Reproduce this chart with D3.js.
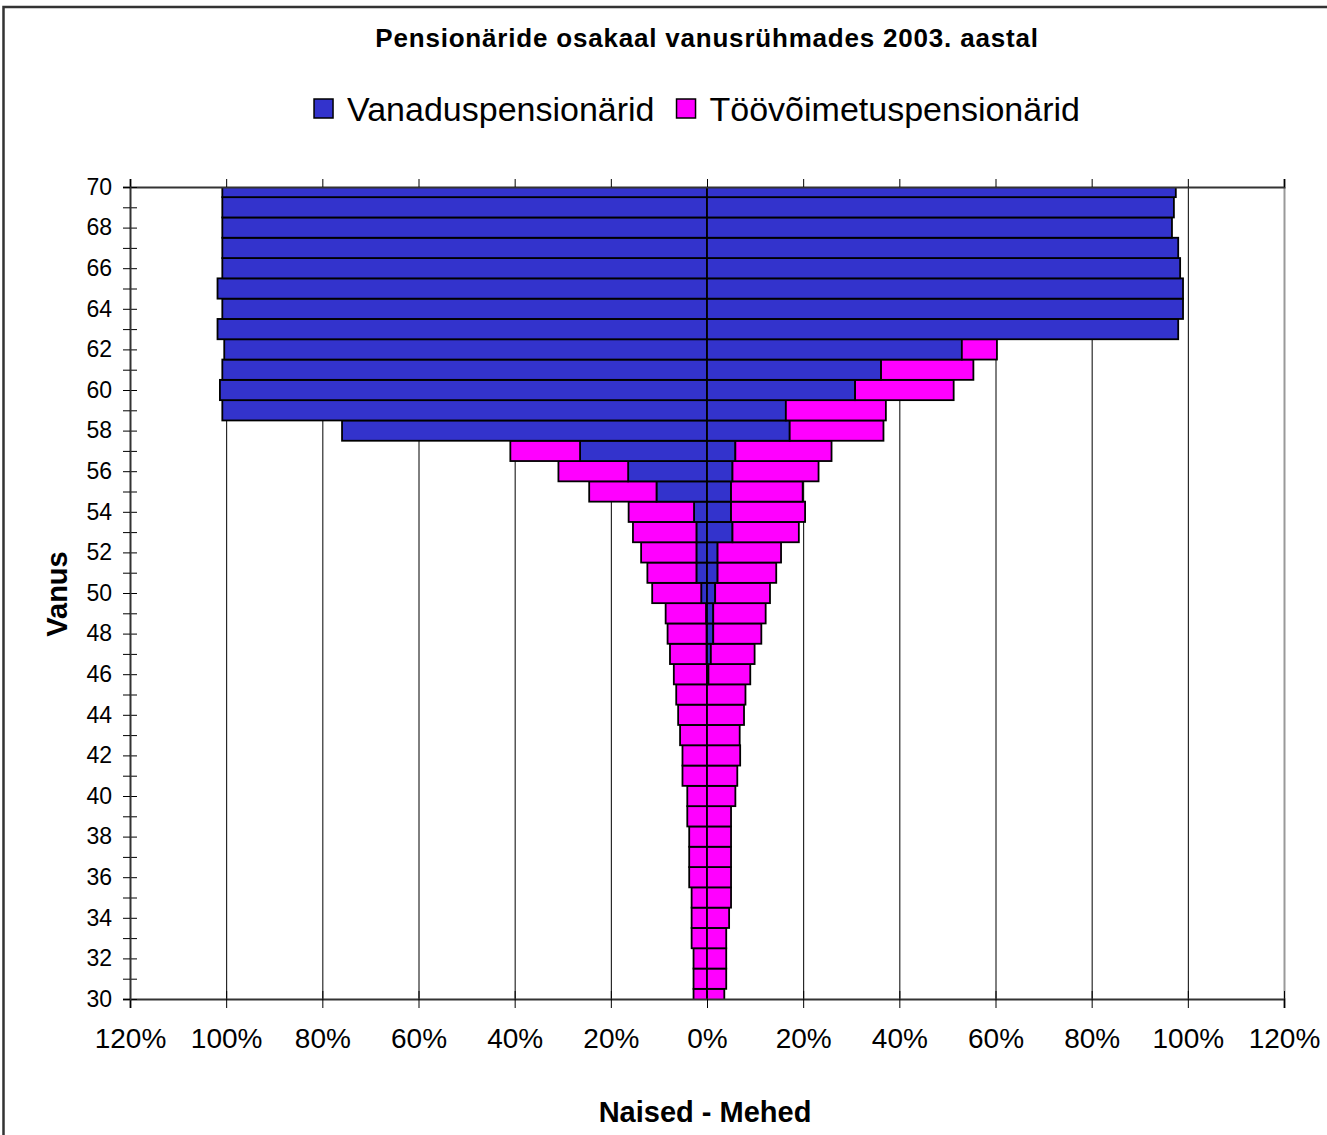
<!DOCTYPE html>
<meta charset="utf-8">
<style>
body { margin: 0; background: white; }
text { font-family: "Liberation Sans", Arial, sans-serif; fill: black; }
</style>
<body>
<script src="https://d3js.org/d3.v7.min.js"></script>
<script>

////*Data: ages 30..70, shares in % of the age group*////
const ages = [30,31,32,33,34,35,36,37,38,39,40,41,42,43,44,45,46,47,48,49,50,
              51,52,53,54,55,56,57,58,59,60,61,62,63,64,65,66,67,68,69,70];

// Naised (women, left side)
const naisedVanadus = [0,0,0,0,0,0,0,0,0,0,0,0,0,0,0,0,0,0.1,0.1,0.2,1.2,
                       2.2,2.2,2.2,2.7,10.5,16.4,26.4,75.9,100.8,101.3,100.8,100.4,101.8,100.8,101.8,100.8,100.8,100.8,100.8,100.8];
const naisedToovoime = [2.8,2.8,2.8,3.2,3.2,3.2,3.7,3.7,3.7,4.1,4.1,5.1,5.1,5.6,6.0,6.4,6.9,7.6,8.1,8.4,10.2,
                        10.2,11.5,13.2,13.6,14.0,14.5,14.5,0,0,0,0,0,0,0,0,0,0,0,0,0];

// Mehed (men, right side)
const mehedVanadus = [0,0,0,0,0,0,0,0,0,0,0,0,0,0,0,0,0.3,0.8,1.3,1.3,1.7,
                      2.2,2.2,5.3,5.0,5.0,5.3,5.9,17.2,16.4,30.8,36.2,53.0,98.0,99.0,99.0,98.4,98.0,96.7,97.1,97.5];
const mehedToovoime = [3.6,4.0,4.0,4.0,4.6,5.0,5.0,5.0,5.0,5.0,5.9,6.3,6.9,6.8,7.7,8.0,8.7,9.1,10.0,10.9,11.4,
                       12.2,13.2,13.8,15.4,14.9,17.9,20.0,19.5,20.8,20.5,19.2,7.3,0,0,0,0,0,0,0,0];

const seriesNames = ["Vanaduspensionärid", "Töövõimetuspensionärid"];
const seriesColors = ["#3333CC", "#FF00FF"];
const xTicks = [-120,-100,-80,-60,-40,-20,0,20,40,60,80,100,120];
const yLabelTicks = [30,32,34,36,38,40,42,44,46,48,50,52,54,56,58,60,62,64,66,68,70];

const titleText = "Pensionäride osakaal vanusrühmades 2003. aastal";
const xTitle = "Naised - Mehed";
const yTitle = "Vanus";

////*Layout*////
const W = 1327, H = 1135;
const plot = { left: 130, right: 1284, top: 187, bottom: 999 };

const svg = d3.select("body").append("svg")
   .attr("width", W)
   .attr("height", H);

// outer chart frame (runs off the right and bottom edge)
svg.append("rect")
   .attr("x", 3.5).attr("y", 7)
   .attr("width", 1400).attr("height", 1300)
   .attr("fill", "white")
   .attr("stroke", "#333")
   .attr("stroke-width", 2.5);

const x = d3.scaleLinear().domain([-120, 120]).range([plot.left, plot.right]);
const y = d3.scaleLinear().domain([30, 70]).range([plot.bottom, plot.top]);

// gridlines
svg.append("g")
   .attr("transform", `translate(0,${plot.top})`)
   .call(d3.axisBottom(x).tickValues(xTicks).tickSize(plot.bottom - plot.top).tickFormat(""))
   .call(g => g.select(".domain").remove())
   .call(g => g.selectAll(".tick line").attr("stroke", "#000").attr("stroke-width", 1))
   .call(g => g.selectAll(".tick").filter(d => d === 120).select("line").attr("stroke", "#999").attr("stroke-width", 2));

// bars
svg.append("clipPath").attr("id", "plotClip")
   .append("rect")
   .attr("x", plot.left).attr("y", plot.top)
   .attr("width", plot.right - plot.left).attr("height", plot.bottom - plot.top);

const rows = ages.map((age, i) => ({
   age: age,
   segs: [
      { x0: -naisedVanadus[i], x1: 0, s: 0 },
      { x0: -(naisedVanadus[i] + naisedToovoime[i]), x1: -naisedVanadus[i], s: 1 },
      { x0: 0, x1: mehedVanadus[i], s: 0 },
      { x0: mehedVanadus[i], x1: mehedVanadus[i] + mehedToovoime[i], s: 1 }
   ].filter(d => d.x1 - d.x0 > 0)
}));

svg.append("g")
   .attr("clip-path", "url(#plotClip)")
   .selectAll("g")
   .data(rows)
   .join("g")
   .each(function(row) {
      d3.select(this).selectAll("rect")
         .data(row.segs)
         .join("rect")
         .attr("x", d => x(d.x0))
         .attr("width", d => x(d.x1) - x(d.x0))
         .attr("y", y(row.age + 0.5))
         .attr("height", y(row.age - 0.5) - y(row.age + 0.5))
         .attr("fill", d => seriesColors[d.s])
         .attr("stroke", "#000")
         .attr("stroke-width", 1.8);
   });

// top border with small ticks above
svg.append("g")
   .attr("transform", `translate(0,${plot.top})`)
   .call(d3.axisTop(x).tickValues(xTicks).tickSize(8).tickFormat(""))
   .call(g => g.select(".domain").attr("stroke", "#333").attr("stroke-width", 2))
   .call(g => g.selectAll(".tick line").attr("stroke", "#000"));

// bottom axis, cross ticks
svg.append("g")
   .attr("transform", `translate(0,${plot.bottom})`)
   .call(d3.axisTop(x).tickValues(xTicks).tickSize(8).tickFormat(""))
   .call(g => g.select(".domain").remove());

svg.append("g")
   .attr("transform", `translate(0,${plot.bottom})`)
   .call(d3.axisBottom(x).tickValues(xTicks).tickSize(9).tickPadding(20)
      .tickFormat(d => Math.abs(d) + "%"))
   .call(g => g.select(".domain").attr("stroke", "#333").attr("stroke-width", 2))
   .call(g => g.selectAll("text").style("font-size", "28px").attr("font-family", null));

// left axis, cross ticks on every age
svg.append("g")
   .attr("transform", `translate(${plot.left},0)`)
   .call(d3.axisRight(y).tickValues(ages).tickSize(7).tickFormat(""))
   .call(g => g.select(".domain").remove());

svg.append("g")
   .attr("transform", `translate(${plot.left},0)`)
   .call(d3.axisLeft(y).tickValues(ages).tickSize(7).tickPadding(11)
      .tickFormat(d => yLabelTicks.includes(d) ? d : ""))
   .call(g => g.select(".domain").attr("stroke", "#333").attr("stroke-width", 2))
   .call(g => g.selectAll("text").style("font-size", "23px").attr("font-family", null));

// titles
svg.append("text")
   .attr("x", 707).attr("y", 47)
   .attr("text-anchor", "middle")
   .style("font-size", "26px")
   .style("font-weight", "bold")
   .style("letter-spacing", "0.8px")
   .text(titleText);

svg.append("text")
   .attr("x", 705).attr("y", 1122)
   .attr("text-anchor", "middle")
   .style("font-size", "29px")
   .style("font-weight", "bold")
   .text(xTitle);

svg.append("text")
   .attr("transform", "translate(67,594) rotate(-90)")
   .attr("text-anchor", "middle")
   .style("font-size", "29px")
   .style("font-weight", "bold")
   .text(yTitle);

// legend
const legend = svg.append("g");
let lx = 0;
seriesNames.forEach((name, i) => {
   const item = legend.append("g").attr("transform", `translate(${lx},0)`);
   item.append("rect")
      .attr("x", 0).attr("y", 99)
      .attr("width", 19).attr("height", 19)
      .attr("fill", seriesColors[i])
      .attr("stroke", "#000")
      .attr("stroke-width", 1.5);
   const t = item.append("text")
      .attr("x", 33).attr("y", 121)
      .style("font-size", "34px")
      .text(name);
   lx += 33 + t.node().getComputedTextLength() + 22;
});
const lw = legend.node().getBBox();
legend.attr("transform", `translate(${697 - lw.width / 2 - lw.x},0)`);

</script>
</body>
</html>
